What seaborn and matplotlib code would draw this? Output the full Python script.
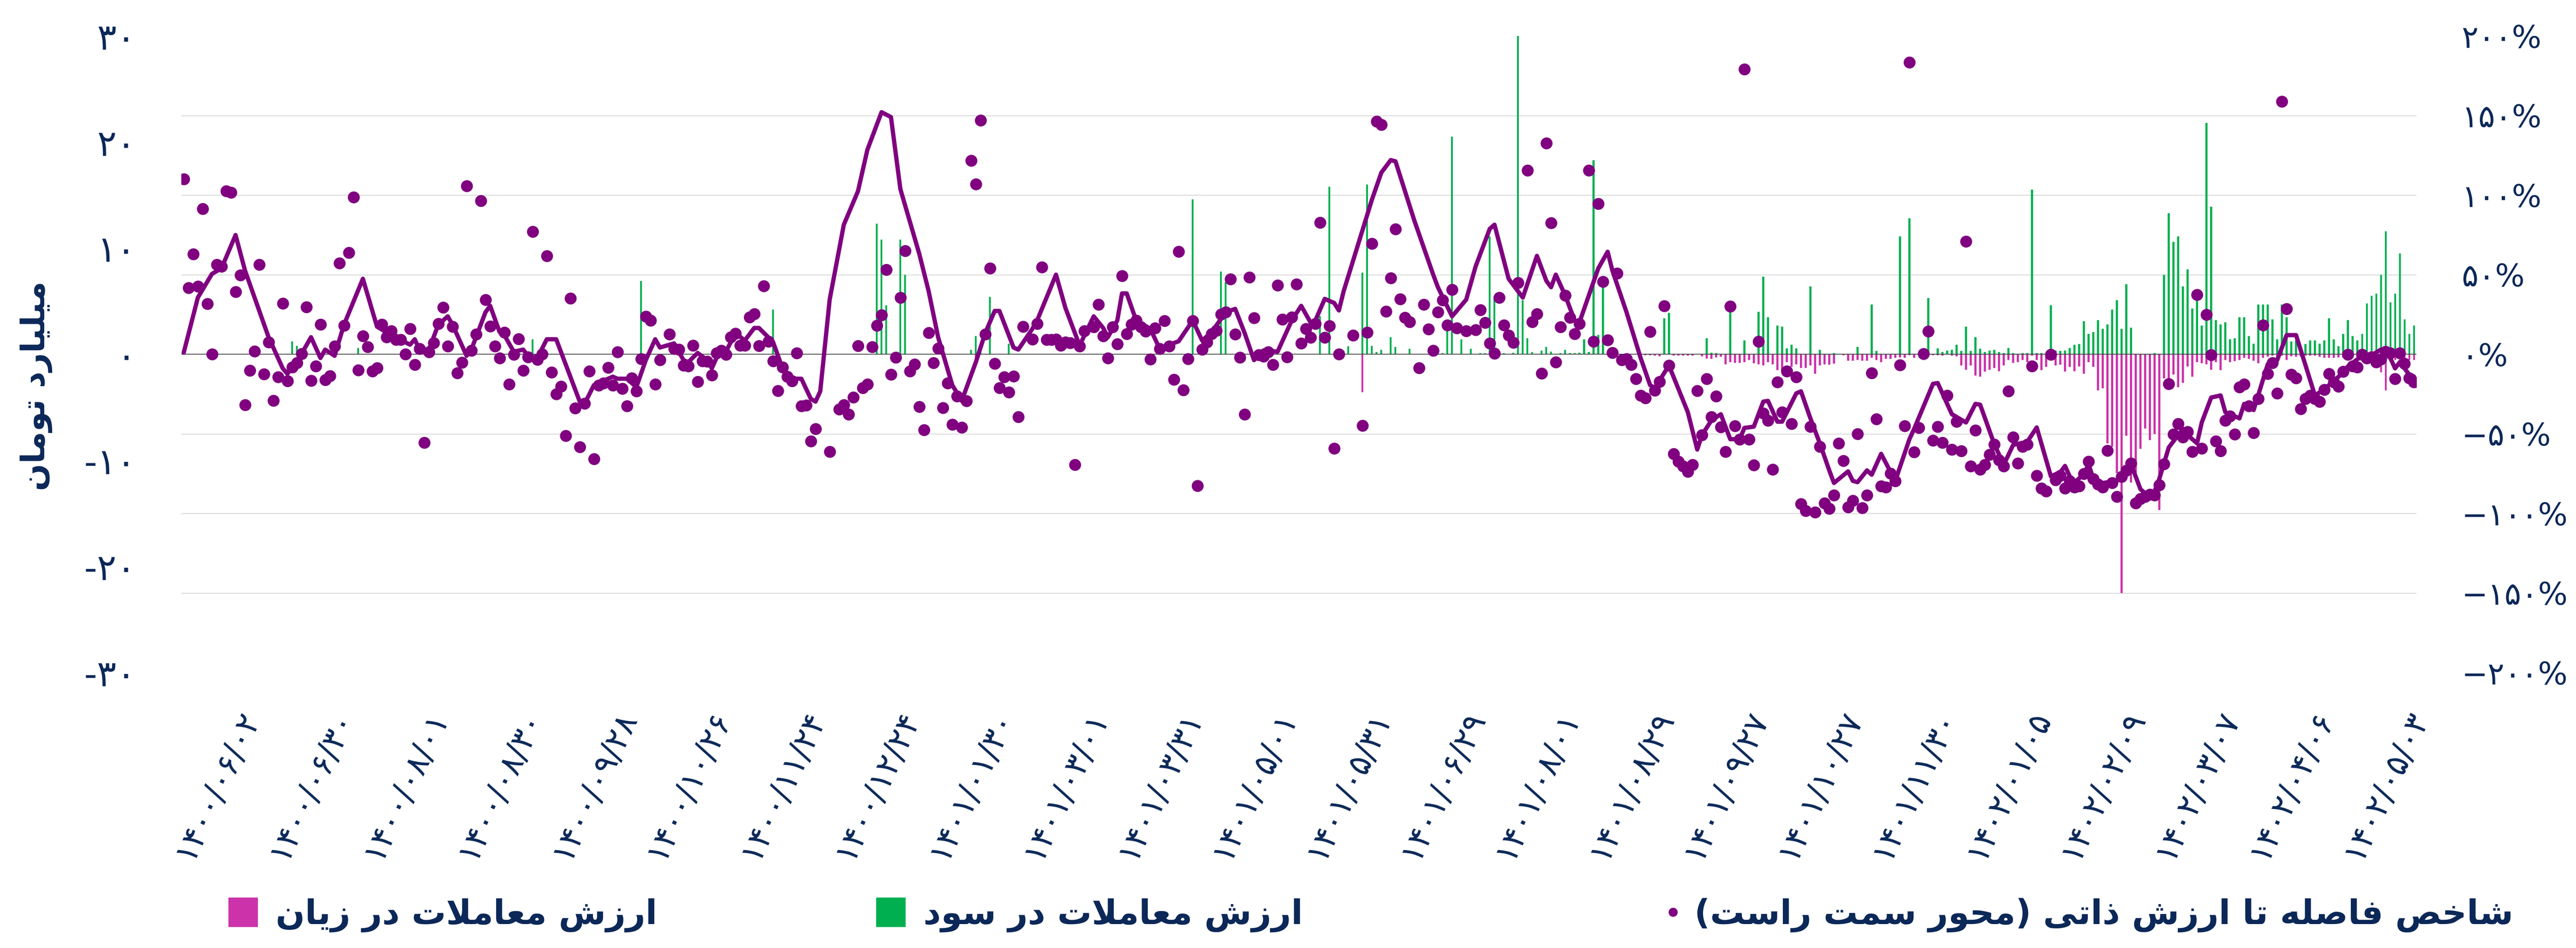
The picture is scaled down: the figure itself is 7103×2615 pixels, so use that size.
import numpy as np
import seaborn as sns
import matplotlib.pyplot as plt
from matplotlib.lines import Line2D
from matplotlib.ticker import FixedLocator

nan = np.nan

# ---- data ----
date_labels = ["1400/06/02", "1400/06/30", "1400/08/01", "1400/08/30", "1400/09/28", "1400/10/26",
               "1400/11/24", "1400/12/24", "1401/01/30", "1401/03/01", "1401/03/31", "1401/05/01",
               "1401/05/31", "1401/06/29", "1401/08/01", "1401/08/29", "1401/09/27", "1401/10/27",
               "1401/11/30", "1402/01/05", "1402/02/09", "1402/03/07", "1402/04/06", "1402/05/03"]

# distance-to-intrinsic-value index, % (right axis), one value per trading day
gap_pct = [
    110, 41.6, 63, 42.7, 91.4, 31.7, 0, 56.3, 55.2, 102.6,
    101.6, 39.3, 49.7, -31.9, -10.2, 1.8, 56.3, -12.6, 7.6, -29.1,
    -14.4, 31.9, -16.8, -8.1, -5.5, 0.3, 29.6, -16.5, -7.6, 18.6,
    -16.2, -13.6, 5.0, 57.1, 18.1, 63.9, 98.7, -9.9, 11.3, 4.5,
    -10.7, -8.6, 18.8, 10.7, 14.7, 9.2, 9.2, 0, 16.0, -6.5,
    3.4, -55.5, 1.3, 7.1, 19.1, 29.3, 5.0, 17.3, -11.8, -5.2,
    105.8, 2.4, 12.6, 96.3, 34.3, 17.5, 5.0, -2.4, 13.6, -18.8,
    -0.3, 9.7, -10.2, -1.8, 77.0, -3.4, 0, 61.8, -11.3, -25.1,
    -20.2, -51.3, 35.1, -34.0, -58.4, -30.9, -10.7, -65.7, -19.6, -18.1,
    -8.4, -19.6, 1.3, -21.7, -32.5, -14.9, -23.3, -2.9, 23.8, 21.2,
    -18.8, -3.7, nan, 12.6, 3.4, 2.9, -7.1, -7.6, 5.5, -17.3,
    -4.2, -4.5, -13.1, 0.8, 2.4, -0.3, 10.7, 13.1, 5.5, 5.5,
    23.3, 25.4, 5.2, 42.9, 8.1, -4.2, -23.0, -8.1, -14.1, -16.8,
    0.8, -32.5, -32.2, -54.7, -46.9, nan, nan, -61.3, nan, -34.6,
    -31.9, -37.7, -27.0, 5.2, -21.2, -18.8, 4.5, 18.1, 24.6, 53.1,
    -12.8, -2.1, 35.6, 64.9, -10.7, -6.3, -33.0, -47.6, 13.4, -5.5,
    3.7, -33.8, -18.1, -44.2, -26.4, -46.1, -29.3, 121.7, 106.8, 146.9,
    12.6, 53.9, -5.8, -21.2, -14.4, -23.8, -13.9, -39.3, 17.3, nan,
    9.4, 19.1, 54.7, 9.2, 9.2, 9.4, 5.5, 7.6, 7.1, -69.4,
    5.0, 14.7, nan, 17.0, 31.2, 11.3, -2.4, 17.0, 6.5, 49.2,
    12.8, 18.6, 21.2, 17.0, 14.4, -3.1, 16.5, 3.4, 20.9, 5.0,
    -16.0, 64.4, -22.5, -2.9, 20.9, -82.7, 2.9, 7.6, 12.8, 14.9,
    25.1, 26.4, 47.1, 12.6, -2.1, -37.7, 48.4, 22.8, -0.5, -1.3,
    1.3, -6.5, 43.2, 22.0, -1.8, 23.3, 44.0, 6.8, 16.0, 10.5,
    19.1, 82.7, 10.5, 17.8, -59.2, 0, nan, nan, 11.8, nan,
    -44.8, 13.6, 69.4, 146.3, 144.2, 27.0, 47.9, 78.5, 34.6, 23.0,
    20.4, nan, -8.6, 31.2, 15.7, 2.4, 26.4, 34.0, 18.3, 40.6,
    16.5, nan, 14.7, nan, 15.2, 27.7, 19.9, 6.8, 0.5, 35.6,
    18.3, 11.8, 7.3, 45.0, nan, 115.4, 20.2, 25.4, -12.0, 132.5,
    82.5, -5.0, 17.0, 36.9, 23.0, 12.8, 19.1, nan, 115.4, 8.1,
    94.5, 45.5, 8.9, 1.0, 50.8, -3.7, -2.9, -6.5, -15.4, -25.9,
    -27.5, 14.1, -22.8, -17.3, 30.4, -7.1, -62.6, -67.3, -70.4, -73.8,
    -69.4, -23.0, -50.8, -15.4, -39.5, -26.4, -45.8, -61.3, 30.1, -45.0,
    -53.4, 179.1, -53.4, -69.6, 8.1, -37.2, -41.6, -72.5, -17.5, -36.4,
    -10.7, -43.7, -14.4, -94.0, -98.4, -45.5, -99.2, -58.1, -93.5, -97.1,
    -88.7, -56.0, -67.0, -96.1, -91.9, -50.0, -96.6, -88.7, -11.8, -40.8,
    -83.0, -83.5, -74.9, -79.6, -6.8, -45.0, 183.5, -61.5, -46.3, 0.3,
    14.4, -54.2, -45.5, -55.5, -25.9, -59.9, -42.4, -60.7, 70.9, -70.4,
    -47.9, -72.5, -69.4, -63.1, -56.8, -66.5, -70.4, -23.3, -52.1, -68.6,
    -58.1, -56.8, -7.6, -76.4, -84.3, -86.1, -0.3, -79.1, -76.4, -84.3,
    -79.6, -83.5, -83.0, -75.1, -67.3, -78.3, -81.7, -83.5, -60.5, -80.9,
    -89.5, -77.0, -73.0, -68.6, -93.5, -90.8, -89.5, -88.2, -88.7, -82.2,
    -69.1, -18.6, -50.3, -43.7, -52.1, -48.7, -61.3, 37.4, -59.2, 24.9,
    -0.5, -54.7, -60.7, -41.6, -39.0, -50.3, -20.7, -18.8, -32.5, -49.5,
    -28.0, 18.3, -12.3, -5.5, -24.6, 158.9, 28.5, -12.8, -14.9, -34.3,
    -28.0, -25.9, -28.0, -29.8, -22.3, -12.3, -17.5, -20.2, -11.0, -0.3,
    -7.6, -8.1, -0.3, -2.4, -1.8, -5.0, -3.1, 1.6, 0.8, -15.4,
    0.8, -5.8, -14.9, -17.5,
]

# smoothed index line (right axis): trading-day positions and values
line_idx = [0, 3, 6, 8, 11, 13, 18, 21, 22, 25, 27, 29, 30, 32, 34, 38, 41, 44, 48, 49,
            50, 52, 54, 56, 57, 60, 61, 64, 65, 67, 68, 70, 72, 73, 75, 77, 79, 84, 85, 87,
            91, 92, 94, 96, 98, 100, 101, 104, 106, 107, 109, 111, 112, 114, 115, 117, 119, 121, 122, 125,
            127, 129, 131, 133, 134, 135, 137, 140, 143, 145, 148, 150, 152, 156, 158, 160, 163, 165, 168, 170,
            172, 173, 176, 177, 180, 181, 185, 187, 190, 193, 195, 196, 198, 199, 200, 202, 205, 207, 209, 211,
            214, 216, 218, 221, 223, 225, 227, 229, 232, 235, 237, 239, 240, 242, 244, 245, 246, 249, 252, 254,
            256, 257, 261, 265, 266, 269, 272, 274, 277, 278, 281, 284, 287, 289, 290, 291, 293, 295, 296, 300,
            302, 303, 306, 309, 311, 312, 315, 319, 321, 322, 324, 326, 328, 330, 331, 333, 335, 336, 338, 339,
            342, 343, 345, 347, 349, 350, 353, 354, 355, 357, 358, 360, 363, 366, 367, 371, 372, 375, 378, 380,
            381, 384, 386, 388, 391, 393, 396, 398, 399, 400, 401, 403, 404, 405, 407, 410, 411, 413, 415, 416,
            418, 419, 421, 424, 425, 427, 428, 430, 432, 433, 436, 437, 438, 439, 442, 444, 445, 446, 448, 452,
            454, 456, 458, 459, 462, 463, 466, 468, 469, 470, 472, 473]
line_pct = [1, 35.6, 50.5, 53.9, 74.9, 52.6, 10.7, -8.9, -12.3, 0.3, 10.7, -2.4, 2.9, -1.0, 18.6, 47.4, 17.3, 12.0, 6.0, 9.4,
            2.9, 2.9, 18.6, 23.8, 18.6, -1.0, 2.9, 26.4, 30.4, 13.9, 12.0, 1.6, 2.9, -1.0, -2.4, 9.4, 9.4, -29.8, -31.2, -19.4,
            -14.1, -15.4, -15.4, -20.7, -3.7, 9.4, 4.2, 6.8, -3.7, -5.0, 0.8, -3.7, -8.9, 4.2, 1.6, 13.4, 8.6, 16.5, 16.5, 7.6,
            -8.9, -15.4, -15.4, -28.0, -29.8, -23.3, 34.3, 81.4, 102.4, 128.5, 152.1, 149.0, 103.7, 63.1, 39.5, 10.7, -19.4, -29.3, -5.0, 13.4,
            27.2, 27.2, 4.2, 2.9, 16.0, 21.2, 50.0, 29.1, 5.5, 23.8, 16.5, 10.7, 21.2, 38.2, 38.2, 21.2, 16.0, 3.4, 6.0, 8.1,
            21.2, 8.6, 13.9, 26.4, 28.5, 13.4, -3.7, 2.4, 1.6, 21.2, 30.4, 19.9, 21.2, 34.8, 32.2, 27.5, 39.5, 68.3, 97.1, 114.1,
            122.0, 121.2, 84.0, 50.0, 42.1, 23.8, 34.3, 55.2, 78.8, 81.4, 47.4, 35.6, 61.8, 46.1, 42.1, 50.0, 36.9, 21.2, 19.9, 53.9,
            64.4, 52.6, 26.4, -2.4, -19.4, -21.2, -7.1, -36.4, -59.9, -50.8, -41.6, -37.7, -53.4, -53.4, -46.3, -45.5, -29.8, -29.3, -42.4, -42.4,
            -24.6, -23.3, -40.3, -56.0, -73.0, -80.9, -73.6, -79.6, -80.4, -73.0, -75.7, -62.6, -79.6, -53.4, -46.9, -18.6, -18.1, -37.7, -42.9, -31.2,
            -31.7, -56.5, -69.5, -57.0, -55.0, -46.0, -76.7, -74.1, -70.2, -76.7, -80.6, -75.4, -69.1, -78.3, -80.9, -79.6, -75.7, -69.1, -84.8, -87.4,
            -86.1, -78.3, -58.6, -46.9, -50.8, -56.0, -42.9, -27.2, -25.9, -36.4, -40.3, -31.2, -32.5, -35.1, -6.3, -3.7, 4.2, 12.0, 12.0, -25.9,
            -22.0, -16.8, -11.5, -7.6, -1.0, -2.4, 2.9, -2.4, -8.9, -5.0, -12.8, -14.0]

# value of trades in profit / in loss, billion toman (left axis)
profit_idx = [23, 24, 37, 74, 97, 125, 147, 148, 149, 152, 153, 167, 168, 169, 171, 175,
              214, 220, 221, 241, 243, 246, 247, 250, 251, 252, 253, 254, 256, 257, 260, 267, 268, 269, 271, 273,
              275, 276, 277, 278, 280, 282, 283, 284, 285, 286, 288, 289, 290, 292, 293, 294, 295, 296, 297, 298,
              299, 300, 301, 314, 315, 323, 324, 325, 328, 331, 334, 335, 336, 338, 339, 340, 341, 342, 345, 347,
              350, 355, 358, 359, 364, 366, 370, 372, 373, 374, 375, 376, 377, 378, 379, 380, 381, 382, 383]
profit_bn = [1.2, 0.8, 0.6, 1.4, 6.9, 4.2, 12.3, 10.8, 4.6, 10.8, 7.5, 0.4, 1.7, 0.25, 5.4, 1.0,
             14.6, 7.8, 6.8, 3.6, 15.8, 0.35, 0.75, 7.7, 16.0, 0.8, 0.2, 0.4, 1.6, 0.7, 0.5, 0.1, 2.4, 20.5, 1.4, 0.5,
             0.1, 0.1, 11.1, 5.3, 0.1, 0.15, 30.0, 5.1, 1.5, 0.2, 0.35, 0.7, 0.25, 0.1, 0.4, 0.1, 0.1, 0.15, 1.4, 0.2,
             18.3, 1.8, 6.3, 3.4, 3.9, 1.5, 0.15, 0.1, 4.0, 1.3, 4.0, 7.3, 3.5, 2.7, 2.6, 0.55, 0.9, 0.55, 6.4, 0.4,
             0.1, 0.7, 4.7, 0.3, 11.1, 12.8, 5.3, 0.55, 0.2, 0.35, 0.4, 0.9, 0.3, 2.6, 0.3, 1.6, 0.5, 0.2, 0.35]
profit_tail = [0.4, 0.2, 0.1, 0.6, 0.1, 0, 0.1, 0.1, 15.5, 0.1, 0.1, 0, 4.6, 0.35, 0.3, 0.35, 0.6, 0.9, 0.95, 3.1,
               1.9, 2.1, 3.2, 2.4, 2.8, 4.2, 5.1, 2.4, 6.6, 2.5, 0, 0, 0, 0, 0.1, 0, 7.5, 13.3, 10.6, 11.1,
               6.4, 8.0, 4.3, 5.5, 2.7, 21.8, 13.9, 3.2, 2.8, 3.0, 1.4, 1.5, 3.5, 3.5, 1.7, 1.0, 4.7, 4.7, 4.7, 3.3,
               1.4, 4.7, 3.5, 1.2, 1.3, 0.75, 0.95, 1.3, 1.3, 1.0, 1.3, 3.4, 1.4, 0.75, 1.9, 3.2, 1.7, 1.3, 1.9, 4.8,
               5.5, 5.7, 7.5, 11.6, 4.9, 5.7, 9.5, 3.3, 1.9, 2.7]
loss_idx = [168, 250, 309, 310, 311, 312, 313, 316, 317, 318, 319, 320, 322, 323, 324, 325, 326, 327, 328, 329,
            330, 331, 332, 333, 334, 335, 336, 337, 338, 339, 340, 341, 342, 343, 344, 345, 346, 347, 348, 349,
            350, 352, 353, 354, 355, 356, 357, 358, 359, 360, 361, 362, 363, 364, 365, 366, 367, 368, 371, 372,
            373, 375, 376, 377, 378, 379, 380, 381, 382, 383]
loss_bn = [-0.35, -3.6, -0.1, -0.1, -0.1, -0.15, -0.2, -0.15, -0.15, -0.15, -0.15, -0.15, -0.2, -0.4, -0.45, -0.3, -0.25, -0.95, -0.75, -0.8,
           -0.8, -0.75, -0.55, -0.85, -0.95, -1.05, -0.75, -0.95, -1.5, -1.65, -0.75, -1.2, -0.95, -1.3, -1.3, -1.05, -1.85, -1.05, -0.95, -1.0,
           -0.9, -0.1, -0.6, -0.6, -0.55, -0.6, -0.6, -0.35, -0.55, -0.75, -0.45, -0.45, -0.35, -0.3, -0.35, -0.1, -0.35, -0.05, -0.1, -0.1,
           -0.15, -0.15, -0.2, -1.05, -1.45, -1.05, -2.0, -2.1, -1.65, -1.45]
loss_tail = [-1.3, -1.6, -1.05, -0.55, -0.8, -0.75, -0.55, -0.75, -0.15, -0.55, -1.5, -1.2, -0.35, -1.05, -1.0, -1.65, -1.2, -1.6, -1.15, -1.85,
             -0.75, -1.2, -3.4, -3.2, -8.4, -8.7, -11.2, -22.5, -7.7, -12.1, -11.2, -8.9, -7.0, -8.1, -7.5, -14.7, -2.3, -2.5, -1.9, -3.1,
             -2.7, -1.15, -2.1, -0.75, -0.85, -0.95, -1.45, -0.75, -1.5, -0.55, -0.75, -0.65, -0.55, -0.35, -0.45, -0.6, -0.85, -0.35, -0.25, -0.15,
             -0.35, -0.15, -0.55, -0.2, -0.25, -0.2, -0.15, -0.15, -0.15, -0.25, -0.35, -0.35, -0.35, -0.3, -0.3, -0.25, -0.25, -0.25, -0.15, -0.2,
             -0.35, -0.55, -1.7, -3.4, -0.65, -0.55, -0.65, -0.65, -0.55, -0.55]

left_ticks = [-30, -20, -10, 0, 10, 20, 30]
right_ticks = [-200, -150, -100, -50, 0, 50, 100, 150, 200]

label_index = "شاخص فاصله تا ارزش ذاتی (محور سمت راست)"
label_profit = "ارزش معاملات در سود"
label_loss = "ارزش معاملات در زیان"
label_unit = "میلیارد تومان"

# ---- helpers: Persian digits and simple Arabic-script shaping ----
FA_DIGITS = str.maketrans("0123456789", "۰۱۲۳۴۵۶۷۸۹")


def fa(s):
    return str(s).translate(FA_DIGITS)


FORMS = {
    "ا": ("\uFE8D", "\uFE8E", None, None),
    "ب": ("\uFE8F", "\uFE90", "\uFE91", "\uFE92"),
    "ت": ("\uFE95", "\uFE96", "\uFE97", "\uFE98"),
    "ح": ("\uFEA1", "\uFEA2", "\uFEA3", "\uFEA4"),
    "خ": ("\uFEA5", "\uFEA6", "\uFEA7", "\uFEA8"),
    "د": ("\uFEA9", "\uFEAA", None, None),
    "ذ": ("\uFEAB", "\uFEAC", None, None),
    "ر": ("\uFEAD", "\uFEAE", None, None),
    "ز": ("\uFEAF", "\uFEB0", None, None),
    "س": ("\uFEB1", "\uFEB2", "\uFEB3", "\uFEB4"),
    "ش": ("\uFEB5", "\uFEB6", "\uFEB7", "\uFEB8"),
    "ص": ("\uFEB9", "\uFEBA", "\uFEBB", "\uFEBC"),
    "ع": ("\uFEC9", "\uFECA", "\uFECB", "\uFECC"),
    "ف": ("\uFED1", "\uFED2", "\uFED3", "\uFED4"),
    "ل": ("\uFEDD", "\uFEDE", "\uFEDF", "\uFEE0"),
    "م": ("\uFEE1", "\uFEE2", "\uFEE3", "\uFEE4"),
    "ن": ("\uFEE5", "\uFEE6", "\uFEE7", "\uFEE8"),
    "ه": ("\uFEE9", "\uFEEA", "\uFEEB", "\uFEEC"),
    "و": ("\uFEED", "\uFEEE", None, None),
    "ی": ("\uFBFC", "\uFBFD", "\uFBFE", "\uFBFF"),
}


def links_forward(c):
    return c in FORMS and FORMS[c][2] is not None


def rtl(text):
    out = []
    i = 0
    while i < len(text):
        c = text[i]
        if c not in FORMS:
            out.append(c)
            i += 1
            continue
        pj = i > 0 and links_forward(text[i - 1])
        if c == "ل" and i + 1 < len(text) and text[i + 1] == "ا":
            out.append("\uFEFC" if pj else "\uFEFB")
            i += 2
            continue
        nj = links_forward(c) and i + 1 < len(text) and text[i + 1] in FORMS
        iso, fin, ini, med = FORMS[c]
        out.append(med if (pj and nj) else fin if pj else ini if nj else iso)
        i += 1
    return "".join(reversed(out)).translate(str.maketrans("()", ")("))


# ---- build full series ----
N = len(gap_pct)
x = np.arange(N)
profit = np.zeros(N)
profit[profit_idx] = profit_bn
profit[N - len(profit_tail):] = profit_tail
loss = np.zeros(N)
loss[loss_idx] = loss_bn
loss[N - len(loss_tail):] = loss_tail

NAVY = "#0B2858"
PURPLE = "#800080"
GREEN = "#00B050"
MAGENTA = "#CC33AA"

sns.set_style("white")
plt.rcParams["font.family"] = ["DejaVu Sans"]

fig = plt.figure(figsize=(71.03, 26.15), dpi=100)
ax = fig.add_axes([0.0704, 0.2906, 0.8676, 0.6715])
ax2 = ax.twinx()

sns.barplot(x=x, y=profit, ax=ax, native_scale=True, color=GREEN, saturation=1,
            width=0.4, linewidth=0, errorbar=None)
sns.barplot(x=x, y=loss, ax=ax, native_scale=True, color=MAGENTA, saturation=1,
            width=0.4, linewidth=0, errorbar=None)
ax.axhline(0, color="#404040", lw=1.6, zorder=5)

sns.lineplot(x=line_idx, y=line_pct, ax=ax2, color=PURPLE, lw=8.5, zorder=3)
sns.scatterplot(x=x, y=gap_pct, ax=ax2, color=PURPLE, s=560, linewidth=0, zorder=4)

ax.set_xlim(-0.5, N - 0.5)
ax.set_ylim(-30, 30)
ax2.set_ylim(-200, 200)

# grid lines follow the right-hand axis
ax.yaxis.set_minor_locator(FixedLocator(np.linspace(-30, 30, 9)))
ax.grid(False)
ax.grid(which="minor", axis="y", color="#D9D9D9", lw=1.8)
ax.set_axisbelow(True)

ax.set_yticks(left_ticks)
ax.set_yticklabels([fa(t) for t in left_ticks])
ax2.set_yticks(right_ticks)
ax2.set_yticklabels([fa(t).replace("-", "\u2212") + "%" for t in right_ticks])

tick_pos = np.arange(len(date_labels)) * 20 + 7
ax.set_xticks(tick_pos)
ax.set_xticklabels([fa(d) for d in date_labels], rotation=65)

ax.tick_params(axis="x", length=0, pad=66, labelsize=64, labelcolor=NAVY)
ax.tick_params(axis="y", which="both", length=0, pad=90, labelsize=72, labelcolor=NAVY)
ax2.tick_params(axis="y", length=0, pad=90, labelsize=62, labelcolor=NAVY)
ax.set_xlabel("")
ax.set_ylabel("")
ax2.set_ylabel("")
for a in (ax, ax2):
    for s in a.spines.values():
        s.set_visible(False)

fig.text(100 / 7103, 1 - 1065 / 2615, rtl(label_unit), rotation=90, ha="center", va="center",
         fontsize=64, fontweight="bold", color=NAVY)

# legend, right-to-left: index dot, profit, loss
items = [
    (Line2D([], [], ls="none", marker="o", markersize=17, color=PURPLE), rtl(label_index), 6930, 0.35),
    (Line2D([], [], ls="none", marker="s", markersize=58, color=GREEN), rtl(label_profit), 3592, 1.0),
    (Line2D([], [], ls="none", marker="s", markersize=58, color=MAGENTA), rtl(label_loss), 1812, 1.0),
]
for handle, text, right_px, hlen in items:
    leg = fig.legend(handles=[handle], labels=[text], loc="center right",
                     bbox_to_anchor=(right_px / 7103, 1 - 2525 / 2615), frameon=False,
                     borderpad=0, borderaxespad=0, handlelength=hlen, handletextpad=0.45,
                     prop={"size": 68, "weight": "bold"})
    for t in leg.get_texts():
        t.set_color(NAVY)

fig.savefig("out.png", dpi=100, facecolor="white")
